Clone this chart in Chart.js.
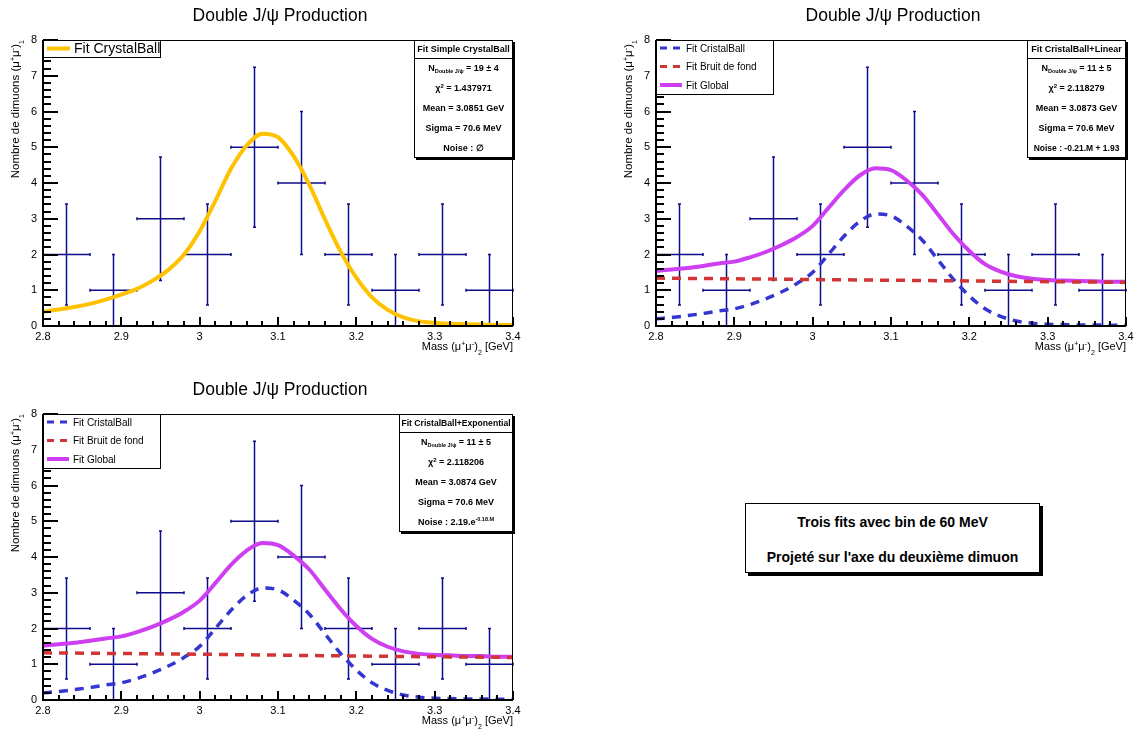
<!DOCTYPE html>
<html>
<head>
<meta charset="utf-8">
<script src="https://cdn.jsdelivr.net/npm/chart.js@4.4.1/dist/chart.umd.min.js"></script>
<style>
  html, body { margin: 0; padding: 0; background: #fff; width: 1141px; height: 731px; overflow: hidden; }
  canvas { position: absolute; }
  #note {
    position: absolute; left: 745px; top: 503px; width: 295px; height: 70px;
    border: 1px solid #000; box-shadow: 3px 3px 0 #000; background: #fff;
    font: bold 14px "Liberation Sans", Arial, sans-serif; text-align: center;
    line-height: 35px; padding-top: 1px; box-sizing: border-box;
  }
</style>
</head>
<body>
<canvas id="pad1" width="570" height="365" style="left:0;top:0"></canvas>
<canvas id="pad2" width="570" height="365" style="left:613px;top:0"></canvas>
<canvas id="pad3" width="570" height="365" style="left:0;top:374px"></canvas>
<div id="note">Trois fits avec bin de 60 MeV<br>Projeté sur l'axe du deuxième dimuon</div>
<script>
const FONT = '"Liberation Sans", Arial, sans-serif';

// histogram (60 MeV bins)
const binCenters = [2.83, 2.89, 2.95, 3.01, 3.07, 3.13, 3.19, 3.25, 3.31, 3.37];
const counts = [2, 1, 3, 2, 5, 4, 2, 1, 2, 1];
const countErrors = [1.41, 1, 1.73, 1.41, 2.24, 2, 1.41, 1, 1.41, 1];
const binHalfWidth = 0.03;

// fitted curves
const massGrid = [2.80, 2.82, 2.84, 2.86, 2.88, 2.90, 2.92, 2.94, 2.96, 2.98, 3.00, 3.02, 3.04, 3.06, 3.08, 3.10,
                  3.12, 3.14, 3.16, 3.18, 3.20, 3.22, 3.24, 3.26, 3.28, 3.30, 3.32, 3.34, 3.36, 3.38, 3.40];
const fitSimpleCB = [0.40, 0.46, 0.53, 0.62, 0.74, 0.88, 1.04, 1.27, 1.57, 2.00, 2.65, 3.50, 4.40, 5.05, 5.38, 5.28,
                     4.75, 3.95, 2.98, 2.08, 1.35, 0.80, 0.45, 0.24, 0.13, 0.09, 0.06, 0.05, 0.04, 0.03, 0.03];
const fitCristalBall = [0.20, 0.24, 0.29, 0.35, 0.42, 0.48, 0.60, 0.76, 0.95, 1.19, 1.50, 2.00, 2.51, 2.92, 3.13, 3.08,
                        2.79, 2.40, 1.85, 1.30, 0.84, 0.48, 0.27, 0.14, 0.08, 0.05, 0.04, 0.03, 0.03, 0.02, 0.02];
const fitGlobalLinear = [1.54, 1.58, 1.62, 1.68, 1.75, 1.80, 1.92, 2.07, 2.26, 2.49, 2.80, 3.30, 3.80, 4.21, 4.41, 4.36,
                         4.07, 3.67, 3.12, 2.56, 2.10, 1.73, 1.52, 1.39, 1.32, 1.29, 1.27, 1.26, 1.25, 1.24, 1.24];
const fitGlobalExp = [1.52, 1.56, 1.60, 1.66, 1.72, 1.78, 1.90, 2.05, 2.24, 2.47, 2.78, 3.27, 3.78, 4.18, 4.39, 4.33,
                      4.04, 3.65, 3.09, 2.54, 2.07, 1.71, 1.49, 1.36, 1.29, 1.26, 1.25, 1.23, 1.23, 1.21, 1.21];
const bkgLinearMass = [2.8, 3.4];
const bkgLinear = [1.34, 1.22];
const bkgExpMass = [2.8, 3.0, 3.2, 3.4];
const bkgExp = [1.32, 1.28, 1.23, 1.19];

const YELLOW = '#ffc200', BLUE = '#3535d0', RED = '#d23535', MAGENTA = '#cd3ff0', ERR = '#0c0c8c';

function pts(xs, ys) { return xs.map((x, i) => ({ x: x, y: ys[i] })); }

function curve(label, xs, ys, color, dashed, order) {
  return {
    type: 'line', label: label, data: pts(xs, ys), borderColor: color,
    borderWidth: dashed ? 3.5 : 4, borderDash: dashed ? [9, 7] : [],
    pointRadius: 0, cubicInterpolationMode: 'monotone', fill: false, order: order
  };
}

function dataSet() {
  return { type: 'scatter', label: 'data', data: pts(binCenters, counts), pointRadius: 0, order: 10, errors: countErrors };
}

// text with sub/superscripts: parts = [text, size, dy]
function rich(ctx, parts, x, y, align, bold) {
  let w = 0;
  parts.forEach(p => { ctx.font = (bold ? 'bold ' : '') + p[1] + 'px ' + FONT; w += ctx.measureText(p[0]).width; });
  let cx = align === 'right' ? x - w : align === 'center' ? x - w / 2 : x;
  ctx.textAlign = 'left';
  ctx.textBaseline = 'alphabetic';
  parts.forEach(p => {
    ctx.font = (bold ? 'bold ' : '') + p[1] + 'px ' + FONT;
    ctx.fillText(p[0], cx, y + (p[2] || 0));
    cx += ctx.measureText(p[0]).width;
  });
}

const rootPad = {
  id: 'rootPad',
  beforeDatasetsDraw(chart) {
    const ctx = chart.ctx;
    const xs = chart.scales.x, ys = chart.scales.y;
    chart.data.datasets.forEach(ds => {
      if (!ds.errors) return;
      ctx.save();
      ctx.setLineDash([]);
      ctx.strokeStyle = ERR;
      ctx.lineWidth = 1.5;
      ds.data.forEach((p, i) => {
        const cx = xs.getPixelForValue(p.x), cy = ys.getPixelForValue(p.y);
        const lo = ys.getPixelForValue(Math.max(0, p.y - ds.errors[i]));
        const hi = ys.getPixelForValue(p.y + ds.errors[i]);
        const l = xs.getPixelForValue(p.x - binHalfWidth), r = xs.getPixelForValue(p.x + binHalfWidth);
        ctx.beginPath();
        ctx.moveTo(cx, lo); ctx.lineTo(cx, hi);
        ctx.moveTo(l, cy); ctx.lineTo(r, cy);
        ctx.moveTo(cx - 1.5, lo); ctx.lineTo(cx + 1.5, lo);
        ctx.moveTo(cx - 1.5, hi); ctx.lineTo(cx + 1.5, hi);
        ctx.moveTo(l, cy - 1.5); ctx.lineTo(l, cy + 1.5);
        ctx.moveTo(r, cy - 1.5); ctx.lineTo(r, cy + 1.5);
        ctx.stroke();
      });
      ctx.restore();
    });
  },
  afterDraw(chart, args, opts) {
    const ctx = chart.ctx, a = chart.chartArea;
    const L = a.left, R = a.right, T = a.top, B = a.bottom;
    const W = R - L, H = B - T;
    ctx.save();
    ctx.setLineDash([]);
    ctx.globalAlpha = 1;

    // frame + ticks (ROOT style, inside the frame)
    ctx.fillStyle = '#000';
    ctx.fillRect(L, T, W, 1);
    ctx.fillRect(R - 1, T, 1, H);
    ctx.fillRect(L - 1, T, 2, H + 1);
    ctx.fillRect(L - 1, B - 1, W + 1, 2);
    for (let i = 0; i <= 30; i++) {
      const px = Math.round(L + W * i / 30);
      const len = i % 5 === 0 ? 9 : 5;
      ctx.fillRect(px - 1, B - len, 2, len);
    }
    for (let i = 0; i <= 40; i++) {
      const py = Math.round(B - H * i / 40);
      const len = i % 5 === 0 ? 15 : 8;
      ctx.fillRect(L, py - 1, len, 2);
    }

    // titles
    rich(ctx, [['Double J/', 17.5], ['ψ', 17.5], [' Production', 17.5]], (L + R) / 2 + 2, 21, 'center');
    rich(ctx, [['Mass (', 11], ['μ', 11], ['+', 7, -4], ['μ', 11], ['-', 8, -4], [')', 11], ['2', 7, 5], [' [GeV]', 11]],
      R, 350, 'right');
    ctx.save();
    ctx.translate(19, T);
    ctx.rotate(-Math.PI / 2);
    rich(ctx, [['Nombre de dimuons (', 11.5], ['μ', 11.5], ['+', 7, -4], ['μ', 11.5], ['-', 8, -4], [')', 11.5], ['1', 7, 5]],
      0, 0, 'right');
    ctx.restore();

    // legend
    const lg = opts.legend;
    ctx.fillStyle = '#fff';
    ctx.fillRect(L, T, lg.w, lg.h);
    ctx.strokeStyle = '#000';
    ctx.lineWidth = 1;
    ctx.strokeRect(L + 0.5, T + 0.5, lg.w, lg.h);
    lg.items.forEach((it, i) => {
      const y = T + lg.first + i * lg.step;
      ctx.beginPath();
      ctx.strokeStyle = it.color;
      ctx.lineWidth = it.dashed ? 3 : 4;
      ctx.setLineDash(it.dashed ? [7, 6] : []);
      ctx.moveTo(L + 4, y); ctx.lineTo(L + lg.sample, y);
      ctx.stroke();
      ctx.setLineDash([]);
      ctx.fillStyle = '#000';
      ctx.font = lg.font + 'px ' + FONT;
      ctx.textAlign = 'left';
      ctx.textBaseline = 'middle';
      ctx.fillText(it.label, L + lg.sample + 4, y + 1);
    });

    // stats box
    const st = opts.stats;
    const bx = R - st.w, by = T, bh = 118;
    ctx.fillStyle = '#000';
    ctx.fillRect(bx + 2, by + 2, st.w, bh);
    ctx.fillStyle = '#fff';
    ctx.fillRect(bx, by, st.w, bh);
    ctx.strokeStyle = '#000';
    ctx.lineWidth = 1;
    ctx.strokeRect(bx + 0.5, by + 0.5, st.w - 1, bh - 1);
    ctx.beginPath();
    ctx.moveTo(bx, by + 18.5); ctx.lineTo(bx + st.w, by + 18.5);
    ctx.stroke();
    ctx.fillStyle = '#000';
    const mid = bx + st.w / 2;
    rich(ctx, [[st.header, st.headerSize]], mid, by + 12, 'center', true);
    st.rows.forEach((row, i) => rich(ctx, row, mid, by + 31 + i * 20, 'center', true));
    ctx.restore();
  }
};

function makePad(id, datasets, legend, stats) {
  return new Chart(document.getElementById(id), {
    type: 'line',
    data: { datasets: datasets },
    plugins: [rootPad],
    options: {
      responsive: false,
      animation: false,
      layout: { padding: { top: 40, right: 57, left: 0, bottom: 0 } },
      plugins: {
        legend: { display: false },
        tooltip: { enabled: false },
        title: { display: false },
        rootPad: { legend: legend, stats: stats }
      },
      scales: {
        x: {
          type: 'linear', min: 2.8, max: 3.4,
          grid: { display: false, drawTicks: false, tickLength: 0 }, border: { display: false },
          ticks: { stepSize: 0.1, autoSkip: false, maxRotation: 0, padding: 4, color: '#000',
                   font: { family: FONT, size: 11 }, callback: v => +v.toFixed(1) },
          afterFit: s => { s.height = 39; }
        },
        y: {
          type: 'linear', min: 0, max: 8,
          grid: { display: false, drawTicks: false, tickLength: 0 }, border: { display: false },
          ticks: { stepSize: 1, padding: 6, color: '#000', font: { family: FONT, size: 11 } },
          afterFit: s => { s.width = 43; }
        }
      }
    }
  });
}

const nRow = n => [['N', 9], ['Double J/ψ', 5.5, 2], [' = ' + n, 9]];
const chiRow = v => [['χ', 9], ['2', 6, -3], [' = ' + v, 9]];

const twoLegend = {
  w: 117, h: 54, first: 8, step: 18.5, sample: 26, font: 10,
  items: [
    { label: 'Fit CristalBall', color: BLUE, dashed: true },
    { label: 'Fit Bruit de fond', color: RED, dashed: true },
    { label: 'Fit Global', color: MAGENTA, dashed: false }
  ]
};

makePad('pad1',
  [curve('Fit CrystalBall', massGrid, fitSimpleCB, YELLOW, false, 1), dataSet()],
  { w: 117, h: 17, first: 8.5, step: 0, sample: 27, font: 14,
    items: [{ label: 'Fit CrystalBall', color: YELLOW, dashed: false }] },
  { w: 99, header: 'Fit Simple CrystalBall', headerSize: 9,
    rows: [nRow('19 ± 4'), chiRow('1.437971'), [['Mean = 3.0851 GeV', 9]], [['Sigma = 70.6 MeV', 9]],
           [['Noise : ∅', 9]]] });

makePad('pad2',
  [curve('Fit Bruit de fond', bkgLinearMass, bkgLinear, RED, true, 1),
   curve('Fit CristalBall', massGrid, fitCristalBall, BLUE, true, 2),
   curve('Fit Global', massGrid, fitGlobalLinear, MAGENTA, false, 3), dataSet()],
  twoLegend,
  { w: 99, header: 'Fit CristalBall+Linear', headerSize: 9,
    rows: [nRow('11 ± 5'), chiRow('2.118279'), [['Mean = 3.0873 GeV', 9]], [['Sigma = 70.6 MeV', 9]],
           [['Noise : -0.21.M + 1.93', 8.5]]] });

makePad('pad3',
  [curve('Fit Bruit de fond', bkgExpMass, bkgExp, RED, true, 1),
   curve('Fit CristalBall', massGrid, fitCristalBall, BLUE, true, 2),
   curve('Fit Global', massGrid, fitGlobalExp, MAGENTA, false, 3), dataSet()],
  twoLegend,
  { w: 114, header: 'Fit CristalBall+Exponential', headerSize: 8.6,
    rows: [nRow('11 ± 5'), chiRow('2.118206'), [['Mean = 3.0874 GeV', 9]], [['Sigma = 70.6 MeV', 9]],
           [['Noise : 2.19.e', 9], ['-0.18.M', 5.5, -4]]] });
</script>
</body>
</html>
